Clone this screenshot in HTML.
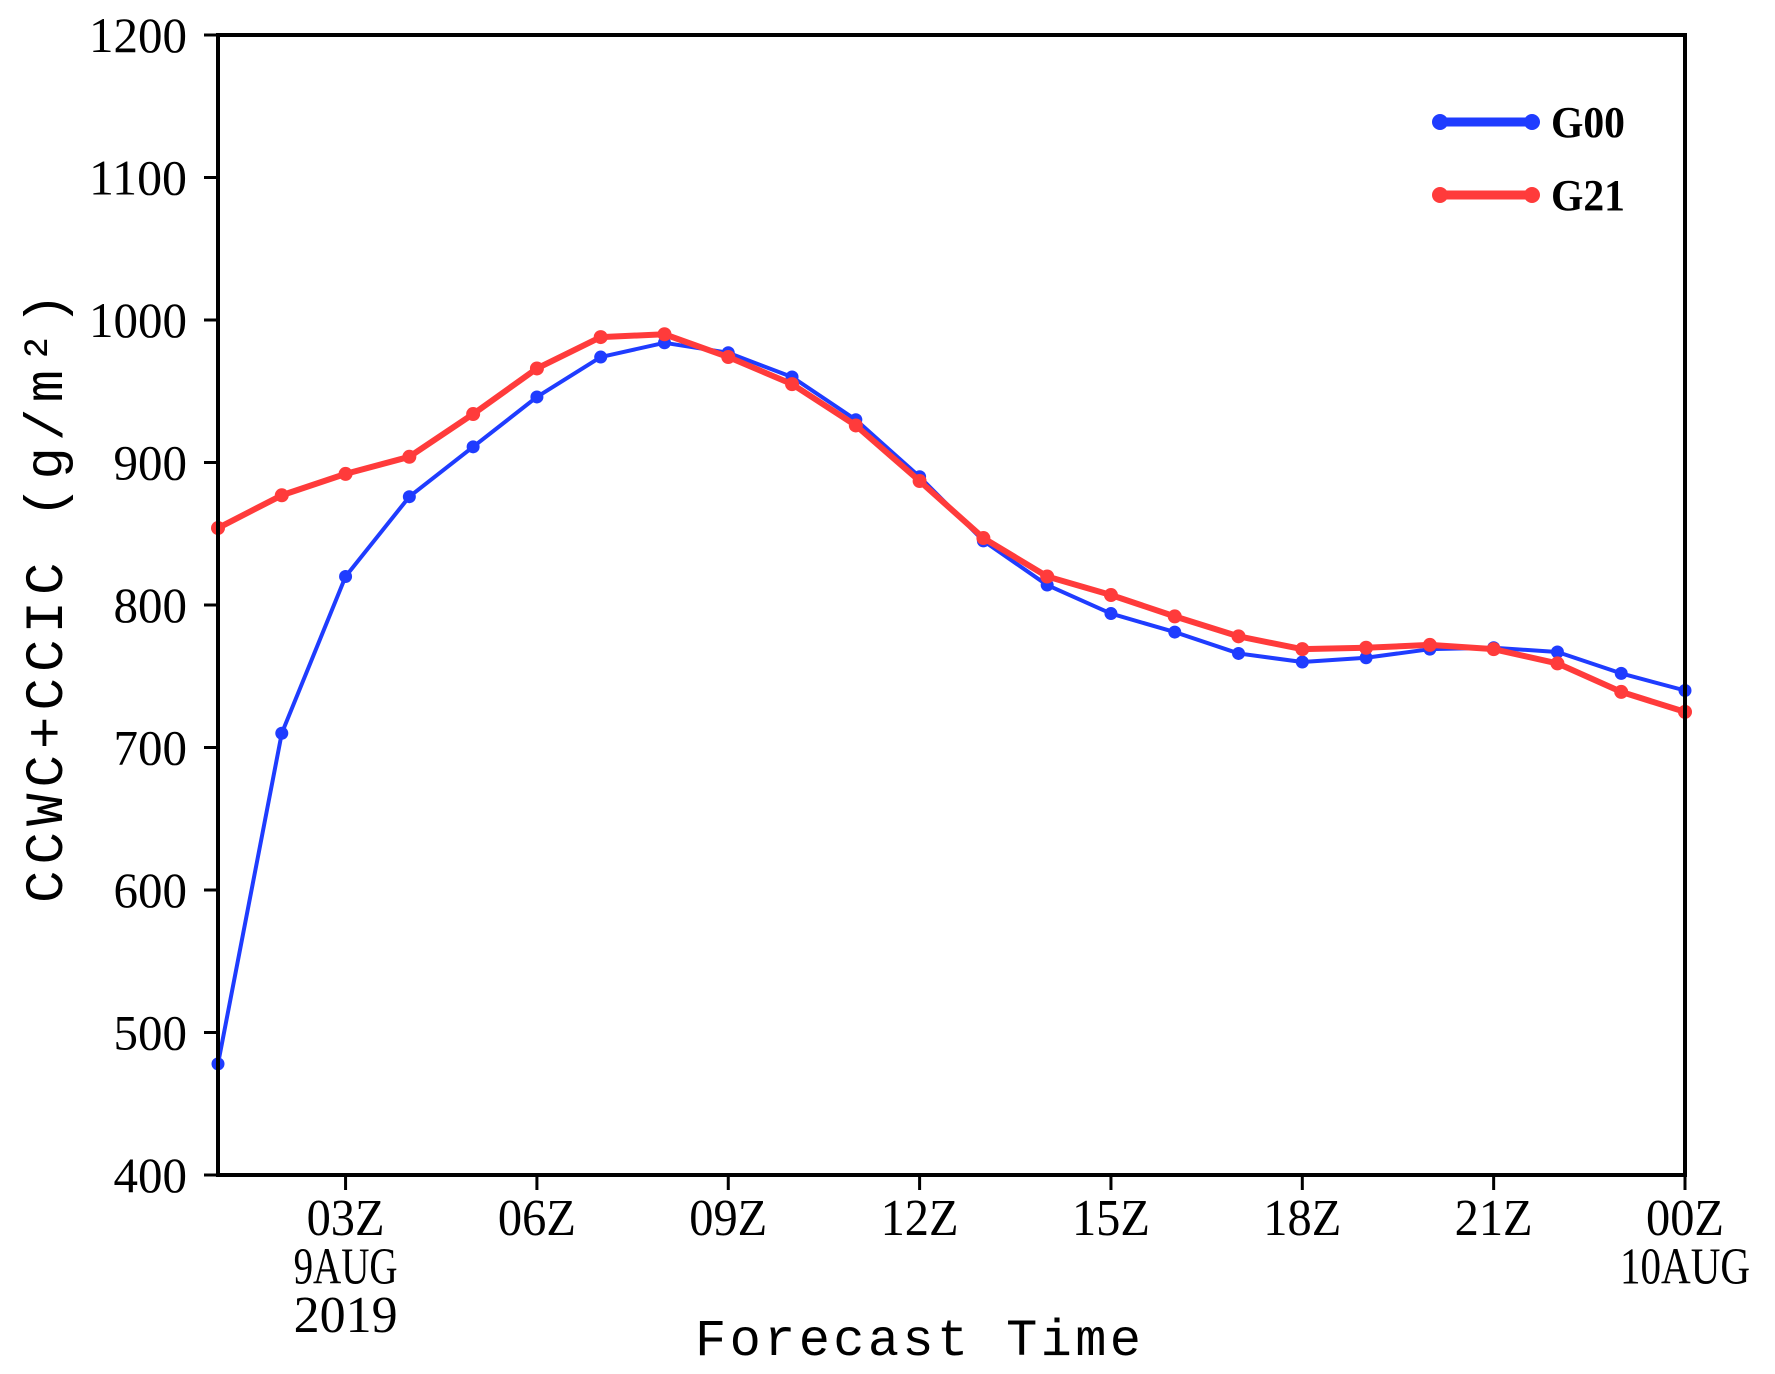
<!DOCTYPE html>
<html><head><meta charset="utf-8"><style>
html,body{margin:0;padding:0;background:#fff;}
svg text{font-family:"Liberation Serif",serif;fill:#000;}
svg text.mono{font-family:"Liberation Mono",monospace;}
</style></head><body>
<svg id="chart" width="1775" height="1369" viewBox="0 0 1775 1369" xmlns="http://www.w3.org/2000/svg">
<rect x="0" y="0" width="1775" height="1369" fill="#fff"/>
<g id="series"></g>
<rect x="218" y="35" width="1467" height="1140" fill="none" stroke="#000" stroke-width="4"/>
<g id="axes"></g>
<text class="mono" transform="translate(62,598) rotate(-90)" text-anchor="middle" font-size="54" textLength="610" lengthAdjust="spacing">CCWC+CCIC (g/m²)</text>
<text class="mono" x="918" y="1355" text-anchor="middle" font-size="52" textLength="446" lengthAdjust="spacing">Forecast Time</text>
<g>
<line x1="1440" y1="122" x2="1532" y2="122" stroke="#1f3cff" stroke-width="9"/>
<circle cx="1440" cy="122" r="8" fill="#1f3cff"/>
<circle cx="1532" cy="122" r="8" fill="#1f3cff"/>
<text x="1551" y="137" font-size="44" font-weight="bold" textLength="74" lengthAdjust="spacingAndGlyphs">G00</text>
<line x1="1440" y1="195" x2="1532" y2="195" stroke="#ff3b3b" stroke-width="9"/>
<circle cx="1440" cy="195" r="8" fill="#ff3b3b"/>
<circle cx="1532" cy="195" r="8" fill="#ff3b3b"/>
<text x="1551" y="210" font-size="44" font-weight="bold" textLength="74" lengthAdjust="spacingAndGlyphs">G21</text>
</g>
</svg>
<script>
const hours = [1,2,3,4,5,6,7,8,9,10,11,12,13,14,15,16,17,18,19,20,21,22,23,24];
const g00 = [478,710,820,876,911,946,974,984,977,960,930,890,845,814,794,781,766,760,763,769,770,767,752,740];
const g21 = [854,877,892,904,934,966,988,990,974,955,926,887,847,820,807,792,778,769,770,772,769,759,739,725];
const yTicks = [400,500,600,700,800,900,1000,1100,1200];
const xTickHours = [3,6,9,12,15,18,21,24];
const xTickLabels = [["03Z","9AUG","2019"],["06Z"],["09Z"],["12Z"],["15Z"],["18Z"],["21Z"],["00Z","10AUG"]];

const L=218,R=1685,T=35,B=1175,xMin=1,xMax=24,yMin=400,yMax=1200;
const xs=h=>L+(h-xMin)/(xMax-xMin)*(R-L);
const ys=v=>B-(v-yMin)/(yMax-yMin)*(B-T);
const NS="http://www.w3.org/2000/svg";
function mk(tag,attrs,parent){const e=document.createElementNS(NS,tag);for(const k in attrs)e.setAttribute(k,attrs[k]);parent.appendChild(e);return e;}
const axes=document.getElementById('axes'), series=document.getElementById('series');

yTicks.forEach(v=>{
  const t=mk('line',{x1:L-14,x2:L,y1:ys(v),y2:ys(v),stroke:'#000','stroke-width':3},axes);
  
  
  const s=String(v);
  const tx=mk('text',{x:187,y:ys(v)+17,'text-anchor':'end','font-size':50,textLength:s.length*24.5,lengthAdjust:'spacingAndGlyphs'},axes);
  tx.textContent=s;
  
  
});
xTickHours.forEach((h,i)=>{
  const t=mk('line',{x1:xs(h),x2:xs(h),y1:B,y2:B+15,stroke:'#000','stroke-width':3},axes);
  
  
  xTickLabels[i].forEach((s,j)=>{
    const tx=mk('text',{x:xs(h),y:1235+j*48.5,'text-anchor':'middle','font-size':52,textLength:s.length*26,lengthAdjust:'spacingAndGlyphs'},axes);
    tx.textContent=s;
    
    
  });
});
function drawSeries(vals,color,w,r,name){
  const pts=hours.map((h,i)=>xs(h)+','+ys(vals[i])).join(' ');
  const pl=mk('polyline',{points:pts,fill:'none',stroke:color,'stroke-width':w,'stroke-linejoin':'round'},series);
  
  
  hours.forEach((h,i)=>{
    const c=mk('circle',{cx:xs(h),cy:ys(vals[i]),r:r,fill:color},series);
    
    
  });
}
drawSeries(g00,'#1f3cff',4,6.5,'g00');
drawSeries(g21,'#ff3b3b',6,7,'g21');
</script>
</body></html>
